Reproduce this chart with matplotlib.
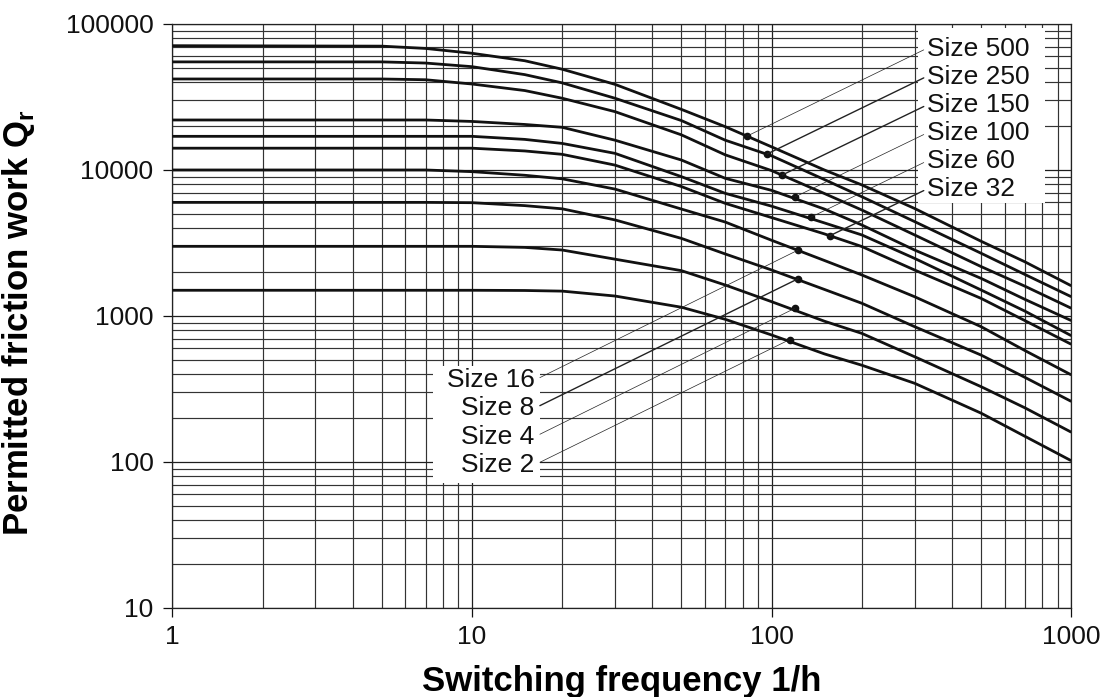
import matplotlib
matplotlib.use("Agg")
import matplotlib.pyplot as plt
from matplotlib.patches import Rectangle
import numpy as np

plt.rcParams['font.family'] = ['Liberation Sans', 'DejaVu Sans']
plt.rcParams['mathtext.fontset'] = 'custom'
plt.rcParams['mathtext.bf'] = 'Liberation Sans:bold'
plt.rcParams['mathtext.rm'] = 'Liberation Sans'

# ---- data ----
freq = [1, 5, 7, 10, 15, 20, 30, 50, 70, 100, 150, 200, 300, 500, 700, 1000]

sizes = ['500', '250', '150', '100', '60', '32', '16', '8', '4', '2']

q_500 = [71000, 70500, 68000, 63000, 56000, 49000, 38600, 26000, 19800, 14400, 10000, 7900, 5450, 3250, 2350, 1610]
q_250 = [55000, 55000, 54000, 51000, 45000, 39500, 31000, 21800, 16000, 12500, 8600, 6560, 4430, 2690, 1925, 1355]
q_150 = [42000, 42000, 41500, 38800, 35000, 31000, 25100, 17400, 12700, 9900, 6900, 5320, 3590, 2180, 1600, 1130]
q_100 = [22000, 22000, 22000, 21500, 20500, 19600, 16000, 11700, 8770, 7250, 5400, 4200, 2830, 1810, 1300, 930]
q_60 = [17000, 17000, 17000, 17000, 16200, 15200, 13000, 9000, 6920, 5650, 4340, 3590, 2480, 1507, 1080, 733]
q_32 = [14100, 14100, 14100, 14100, 13500, 12800, 10800, 7700, 5910, 4720, 3650, 2990, 2065, 1320, 930, 640]
q_16 = [10000, 10000, 10000, 9740, 9200, 8700, 7400, 5400, 4400, 3300, 2400, 1910, 1355, 845, 580, 395]
q_8 = [6000, 6000, 6000, 5970, 5700, 5420, 4550, 3400, 2660, 2065, 1520, 1222, 845, 540, 380, 260]
q_4 = [3000, 3000, 3000, 3000, 2950, 2830, 2450, 2044, 1630, 1253, 921, 760, 526, 328, 235, 160]
q_2 = [1500, 1500, 1500, 1500, 1495, 1480, 1370, 1148, 949, 741, 550, 460, 346, 216, 150, 102]

series = [q_500, q_250, q_150, q_100, q_60, q_32, q_16, q_8, q_4, q_2]

# marked points on each curve (where the label leader lines end)
dot_x = [82.5, 96.7, 108.5, 119.6, 134.9, 156.5, 122.7, 122.7, 119.6, 115]
dot_y = [17000, 12880, 9240, 6530, 4740, 3548, 2831, 1801, 1129, 690]

y_ticks = [10, 100, 1000, 10000, 100000]
x_ticks = [1, 10, 100, 1000]

# ---- figure ----
fig = plt.figure(figsize=(11.06, 6.97), dpi=100)
ax = fig.add_axes([0.1558, 0.1277, 0.8128, 0.8379])
ax.set_xscale('log')
ax.set_yscale('log')
ax.set_xlim(1, 1000)
ax.set_ylim(10, 100000)

ax.grid(True, which='major', color='#1e1e1e', lw=0.9, zorder=0)
ax.grid(True, which='minor', color='#333333', lw=0.85, zorder=0)
ax.set_axisbelow(True)

for q in series:
    ax.plot(freq, q, color='#111111', lw=2.0, solid_capstyle='butt', zorder=3)
ax.plot(dot_x, dot_y, 'o', color='#111111', ms=4.5, zorder=4, ls='none')

ax.set_xticks(x_ticks)
ax.set_xticklabels([str(v) for v in x_ticks])
ax.set_yticks(y_ticks)
ax.set_yticklabels([str(v) for v in y_ticks])
ax.tick_params(axis='both', which='major', direction='out', length=6.5, width=0.9,
               labelsize=19, colors='#111111')
ax.tick_params(axis='x', pad=6)
ax.tick_params(axis='y', pad=7)
ax.tick_params(axis='both', which='minor', length=0)
for s in ax.spines.values():
    s.set_color('#222222')
    s.set_linewidth(0.9)

ax.set_xlabel('Switching frequency 1/h', fontsize=25, fontweight='bold')
ax.xaxis.set_label_coords(0.5, -0.098)
ax.set_ylabel(r'Permitted friction work Q$_\mathbf{r}$', fontsize=25, fontweight='bold')
ax.yaxis.set_label_coords(-0.150, 0.488)

# white label boxes
ax.add_patch(Rectangle((0.8298, 0.6935), 0.141, 0.299, transform=ax.transAxes,
                       facecolor='white', edgecolor='none', zorder=2))
ax.add_patch(Rectangle((0.2896, 0.2145), 0.1195, 0.200, transform=ax.transAxes,
                       facecolor='white', edgecolor='none', zorder=2))

right_sizes = sizes[:6]
right_y = [0.958, 0.910, 0.861, 0.813, 0.765, 0.717]
right_lw = [0.5, 1.0, 1.0, 0.5, 0.5, 1.0]
for i, (s, ty) in enumerate(zip(right_sizes, right_y)):
    ax.annotate('Size ' + s, xy=(dot_x[i], dot_y[i]), xycoords='data',
                xytext=(0.839, ty), textcoords='axes fraction',
                ha='left', va='center', fontsize=19, color='#111111', zorder=5,
                arrowprops=dict(arrowstyle='-', color='#222222', lw=right_lw[i],
                                shrinkA=0, shrinkB=0, relpos=(0, 0.5)))

left_sizes = sizes[6:]
left_y = [0.390, 0.342, 0.293, 0.245]
left_lw = [0.5, 1.0, 0.5, 0.5]
for j, (s, ty) in enumerate(zip(left_sizes, left_y)):
    i = 6 + j
    ax.annotate('Size ' + s, xy=(dot_x[i], dot_y[i]), xycoords='data',
                xytext=(0.403, ty), textcoords='axes fraction',
                ha='right', va='center', fontsize=19, color='#111111', zorder=5,
                arrowprops=dict(arrowstyle='-', color='#222222', lw=left_lw[j],
                                shrinkA=2, shrinkB=0, relpos=(1, 0.5)))

fig.savefig('out.png', dpi=100)
